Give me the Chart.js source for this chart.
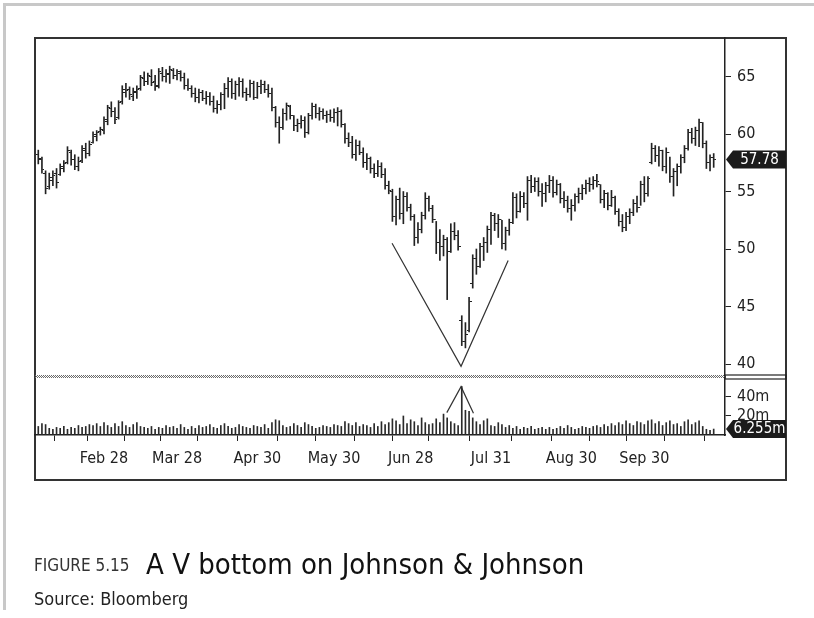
<!DOCTYPE html>
<html><head><meta charset="utf-8">
<script src="https://cdn.jsdelivr.net/npm/chart.js@4.4.1/dist/chart.umd.min.js"></script>
<style>
html,body{margin:0;padding:0;background:#fff;}
#wrap{position:relative;width:814px;height:618px;overflow:hidden;background:#fff;}
#frame{position:absolute;left:3px;top:3px;width:811px;height:607px;border-top:3px solid #c8c8c8;border-left:3px solid #c8c8c8;box-sizing:border-box;}
#box{position:absolute;left:34px;top:37px;width:753px;height:444px;border:2px solid #333;box-sizing:border-box;}
#c{position:absolute;left:0;top:0;}
.cap{position:absolute;white-space:nowrap;line-height:1;font-family:'Liberation Sans Narrow','DejaVu Sans Condensed','Roboto Condensed','Liberation Sans',sans-serif;}
</style></head>
<body>
<div id="wrap">
  <div id="frame"></div>
  <div id="box"></div>
  <canvas id="c" width="814" height="618"></canvas>
  <div class="cap" style="left:34px;top:557px;font-size:17px;color:#333;">FIGURE 5.15</div>
  <div class="cap" style="left:146px;top:550px;font-size:29px;color:#111;">A V bottom on Johnson &amp; Johnson</div>
  <div class="cap" style="left:34px;top:590px;font-size:18px;color:#222;">Source: Bloomberg</div>
</div>
<script>
// ---- data (one bar per trading day, Feb 1 .. Oct 25) ----
const openP = [
58.2,57.8,56.6,55.4,56.0,56.6,56.5,57.0,57.5,58.4,
57.8,57.2,57.7,58.6,58.3,59.3,59.8,60.2,60.3,61.1,
62.2,62.0,61.4,62.8,63.6,63.9,63.3,63.6,64.0,64.8,
64.6,65.0,64.6,64.2,65.3,65.0,65.2,65.5,65.1,65.3,
64.9,64.2,64.0,63.5,63.2,63.6,63.1,63.3,62.8,62.2,
62.6,63.4,64.0,64.6,63.5,64.3,64.6,63.6,63.4,64.4,
63.2,64.1,64.3,63.9,63.5,62.3,61.0,60.6,61.8,62.4,
61.6,60.7,60.9,61.2,60.1,61.6,62.4,61.8,62.0,61.6,
61.7,61.4,61.9,62.0,60.8,59.6,59.3,58.2,59.0,58.4,
57.5,57.9,57.0,56.6,57.2,56.5,55.5,55.0,52.8,54.3,
53.1,54.6,53.6,52.8,51.0,51.7,52.9,54.4,53.5,52.6,
50.6,50.2,50.8,49.8,51.5,51.2,43.8,42.0,42.9,47.0,
49.2,48.5,50.2,50.6,51.7,52.9,52.2,52.6,50.5,51.6,
52.3,54.5,53.3,54.6,54.0,56.0,55.4,55.9,55.0,54.8,
55.5,56.0,54.9,55.6,54.4,54.2,53.5,53.8,54.6,54.8,
55.3,55.7,55.6,56.0,55.6,54.3,54.8,53.8,54.5,53.3,
52.4,51.9,52.8,53.2,54.0,53.6,55.6,54.8,57.5,58.7,
58.1,58.6,57.2,58.4,56.3,56.7,57.2,58.0,58.7,60.1,
59.6,60.3,61.0,59.2,57.5,58.0];
const highP = [
58.6,58.0,56.8,56.6,56.8,57.0,57.4,57.7,58.9,58.6,
58.2,58.0,59.0,59.2,59.4,60.2,60.3,60.6,61.5,62.5,
62.8,62.3,62.9,64.2,64.4,64.1,64.0,64.2,65.1,65.4,
65.3,65.6,65.1,65.7,65.8,65.6,65.9,65.7,65.6,65.5,
65.3,64.8,64.2,64.0,63.9,63.8,63.7,63.6,63.3,62.9,
63.6,64.4,64.9,64.8,64.6,64.9,64.8,64.0,64.7,64.6,
64.5,64.7,64.6,64.3,64.0,62.4,61.5,62.2,62.7,62.5,
61.6,61.3,61.6,61.5,61.8,62.7,62.6,62.3,62.2,62.0,
62.1,62.2,62.3,62.1,60.9,60.1,59.8,59.5,59.4,58.8,
58.3,58.0,57.4,57.7,57.5,57.0,55.9,55.2,54.6,55.3,
55.0,54.9,53.9,53.0,52.3,53.2,54.9,54.6,53.8,52.4,
51.7,51.2,51.0,52.2,52.3,51.6,44.2,43.6,45.8,49.5,
50.0,50.5,51.0,52.0,53.2,53.1,53.0,52.5,51.9,52.6,
54.9,54.8,55.0,54.9,56.3,56.4,56.2,56.2,55.7,55.8,
56.4,56.3,56.0,55.7,55.0,54.6,54.3,54.8,55.3,55.6,
56.0,56.2,56.3,56.5,55.6,55.1,54.9,55.1,54.6,53.5,
53.0,53.2,53.5,54.3,54.6,55.9,56.3,56.3,59.2,59.0,
58.9,58.6,58.8,58.0,57.0,57.4,58.2,59.0,60.4,60.5,
60.6,61.3,61.0,59.4,58.2,58.3];
const lowP = [
57.4,56.6,54.8,55.2,55.5,55.3,56.4,56.7,57.4,57.3,
56.9,56.8,57.5,57.9,58.1,59.2,59.4,59.9,60.0,60.8,
61.5,60.9,61.3,62.6,63.2,63.0,62.9,63.1,63.8,64.2,
64.3,64.2,63.8,64.0,64.6,64.5,64.4,64.8,64.7,64.6,
63.9,63.8,63.2,62.8,62.7,62.9,62.6,62.5,61.9,61.8,
62.1,62.2,63.2,63.1,63.0,63.3,63.2,62.9,63.2,63.0,
63.1,63.5,63.6,63.2,62.0,60.6,59.2,60.4,61.2,61.3,
60.3,60.2,60.5,59.7,60.0,61.3,61.4,61.2,61.3,61.0,
61.1,61.0,60.7,60.6,59.2,58.9,57.9,57.7,58.2,57.1,
56.9,56.6,56.2,56.3,56.2,55.2,54.8,52.4,52.1,52.6,
52.2,53.3,52.5,50.3,50.5,51.4,52.6,53.3,52.3,49.6,
49.0,49.4,45.6,49.7,50.8,49.9,41.6,41.4,42.8,46.6,
47.8,48.4,49.0,49.7,50.4,51.6,51.0,50.0,49.9,51.2,
52.2,52.7,53.2,53.6,52.5,54.9,55.0,54.6,53.7,54.1,
54.9,54.5,54.7,54.0,53.6,53.2,52.5,53.3,54.0,54.3,
54.8,55.0,55.2,55.4,54.0,53.6,53.4,53.7,53.0,52.0,
51.5,51.6,52.2,52.9,53.2,53.8,54.1,54.6,57.4,57.6,
57.2,56.8,56.6,55.8,54.6,55.5,56.6,57.5,58.6,59.2,
59.0,58.9,58.8,57.0,56.8,57.1];
const closeP = [
57.9,56.9,55.3,56.2,56.4,55.8,57.2,57.4,58.6,57.8,
57.2,57.6,58.7,58.3,59.1,60.0,60.1,60.4,61.3,62.3,
62.0,61.3,62.7,63.9,63.8,63.4,63.7,63.9,64.9,64.6,
65.1,64.5,64.1,65.4,65.0,65.3,65.6,65.1,65.4,64.9,
64.2,64.0,63.5,63.2,63.6,63.1,63.3,62.8,62.2,62.6,
63.4,64.0,64.6,63.5,64.3,64.6,63.6,63.4,64.4,63.2,
64.1,64.3,63.9,63.5,62.3,61.0,60.6,61.8,62.5,61.6,
60.7,60.9,61.2,60.1,61.6,62.4,61.8,62.0,61.6,61.7,
61.4,61.9,62.0,60.8,59.6,59.3,58.2,59.0,58.4,57.5,
57.9,57.0,56.6,57.2,56.5,55.5,55.1,52.8,54.3,53.1,
54.6,53.6,52.8,51.0,51.7,52.9,54.4,53.5,52.6,50.6,
50.2,50.8,49.8,51.5,51.2,50.2,42.0,42.6,45.4,49.2,
48.5,50.2,50.6,51.7,52.9,52.2,52.6,50.5,51.6,52.3,
54.5,53.3,54.6,54.0,56.0,55.4,55.9,55.0,54.8,55.5,
56.0,54.9,55.6,54.4,54.2,53.5,53.8,54.6,54.8,55.3,
55.7,55.6,56.0,55.9,54.3,54.8,53.8,54.5,53.3,52.4,
51.9,52.8,53.2,54.0,53.6,55.6,54.8,56.1,58.7,58.1,
58.6,57.2,58.4,56.3,56.7,57.2,58.0,58.7,60.1,59.6,
60.3,61.0,59.2,57.5,58.0,57.78];
// volume in millions of shares
const volume = [
9,12,11,7,6,8,7,9,6,8,
7,10,8,9,11,10,12,9,13,10,
8,12,9,14,10,8,11,13,9,8,
7,9,6,8,7,10,8,9,7,11,
8,6,9,7,10,8,9,11,8,7,
10,12,9,7,8,11,9,8,7,10,
9,8,11,7,13,16,15,10,8,9,
12,10,8,13,11,9,7,8,10,9,
8,11,10,9,14,12,10,13,9,11,
10,8,12,9,14,11,13,17,15,11,
20,12,16,14,10,18,13,11,12,17,
13,22,18,14,12,10,51,26,25,18,
14,11,15,17,10,9,13,11,8,10,
7,9,6,8,7,9,6,7,8,6,
8,6,7,9,7,10,8,6,7,9,
8,7,9,10,8,11,9,12,10,13,
11,15,12,10,14,13,11,15,16,12,
14,10,13,15,11,12,9,14,16,11,
13,15,9,6,5,6.255];
// hand-drawn V pattern (day index, value)
const vPriceDay = [96.9, 115.8, 128.7];
const vPriceVal = [50.5, 39.8, 49.0];
const vVolDay = [111.9, 115.8, 119.2];
const vVolVal = [23.5, 50.8, 22.8];
// axis ticks
const dateTickDay = [9,18,29,38,49,60,71,81,92,102,112,124,135,146,156,166,177];
const dateTickText = ['','Feb 28','','Mar 28','','Apr 30','','May 30','','Jun 28','','Jul 31','','Aug 30','','Sep 30',''];
const priceTicks = [40,42.5,45,47.5,50,52.5,55,57.5,60,62.5,65,67.5];
const priceTickText = ['40','','45','','50','','55','','60','','65',''];
const volTicks = [20,30,40,50];
const volTickText = ['20m','','40m',''];

const FONT = "'Liberation Sans Narrow','DejaVu Sans Condensed','Roboto Condensed','Liberation Sans',sans-serif";
const INK = '#222';

function tickImg(side){
  const c = document.createElement('canvas'); c.width = 5; c.height = 1;
  const g = c.getContext('2d'); g.fillStyle = INK;
  if (side === 'L') g.fillRect(0,0,2,1); else g.fillRect(3,0,2,1);
  return c;
}

const hl = lowP.map((l,i)=>({x:i, y:[l, highP[i]]}));
const op = openP.map((v,i)=>({x:i, y:v}));
const cl = closeP.map((v,i)=>({x:i, y:v}));
const vb = volume.map((v,i)=>({x:i, y:v}));
const vP = vPriceDay.map((d,i)=>({x:d, y:vPriceVal[i]}));
const vV = vVolDay.map((d,i)=>({x:d, y:vVolVal[i]}));

const overlay = {
  id:'overlay',
  afterDraw(chart){
    const {ctx, chartArea, scales} = chart;
    const y = scales.y, yv = scales.yv;
    const sepY = Math.round(y.bottom);
    ctx.save();
    ctx.lineWidth = 1; ctx.strokeStyle = '#6a6a6a';
    ctx.setLineDash([1,1]);
    for (let k=0;k<3;k++){
      ctx.lineDashOffset = k%2;
      ctx.beginPath(); ctx.moveTo(chartArea.left, sepY-1.5+k); ctx.lineTo(chartArea.right, sepY-1.5+k); ctx.stroke();
    }
    ctx.setLineDash([]);
    ctx.strokeStyle = '#222'; ctx.lineWidth = 1.2;
    ctx.strokeRect(y.left, sepY-2, y.right - y.left, 4);
    function tag(yy, txt){
      const l = y.left + 1, r = y.right;
      ctx.fillStyle = '#1b1b1b';
      ctx.beginPath();
      ctx.moveTo(l, yy); ctx.lineTo(l+7, yy-9); ctx.lineTo(r, yy-9); ctx.lineTo(r, yy+9); ctx.lineTo(l+7, yy+9); ctx.closePath(); ctx.fill();
      ctx.fillStyle = '#fff'; ctx.font = '15px ' + FONT; ctx.textAlign = 'center'; ctx.textBaseline = 'middle';
      ctx.fillText(txt, (l+7+r)/2, yy+0.5);
    }
    tag(y.getPixelForValue(closeP[closeP.length-1]), closeP[closeP.length-1].toFixed(2));
    tag(yv.getPixelForValue(volume[volume.length-1]), volume[volume.length-1] + 'm');
    ctx.restore();
  }
};

new Chart(document.getElementById('c'), {
  type:'bar',
  data:{datasets:[
    {type:'bar', data:hl, xAxisID:'x', yAxisID:'y', backgroundColor:INK, barThickness:1, grouped:false},
    {type:'scatter', data:op, xAxisID:'x', yAxisID:'y', pointStyle:tickImg('L'), pointRadius:2, showLine:false},
    {type:'scatter', data:cl, xAxisID:'x', yAxisID:'y', pointStyle:tickImg('R'), pointRadius:2, showLine:false},
    {type:'bar', data:vb, xAxisID:'x', yAxisID:'yv', backgroundColor:'#2a2a2a', barThickness:1, grouped:false},
    {type:'line', data:vP, xAxisID:'x', yAxisID:'y', borderColor:'#333', borderWidth:1.2, pointRadius:0, tension:0, fill:false},
    {type:'line', data:vV, xAxisID:'x', yAxisID:'yv', borderColor:'#333', borderWidth:1.2, pointRadius:0, tension:0, fill:false}
  ]},
  options:{
    responsive:false, animation:false, devicePixelRatio:1,
    layout:{padding:{left:35, top:38, right:28, bottom:138}},
    plugins:{legend:{display:false}, tooltip:{enabled:false}},
    scales:{
      x:{type:'linear', position:'bottom', min:-0.9, max:188.1, offset:false,
        grid:{drawOnChartArea:false, drawTicks:true, tickLength:6, color:INK, lineWidth:1},
        border:{display:true, color:INK, width:1.5},
        ticks:{autoSkip:false, maxRotation:0, padding:8, color:INK, font:{family:FONT, size:16},
          callback:(v)=>{const k = dateTickDay.indexOf(v); return k>=0 ? dateTickText[k] : '';}},
        afterBuildTicks:(s)=>{ s.ticks = dateTickDay.map(v=>({value:v})); },
        afterFit:(s)=>{ s.height = 45; }
      },
      y:{type:'linear', position:'right', stack:'main', stackWeight:339, min:38.87, max:68.35, offset:false,
        grid:{drawOnChartArea:false, drawTicks:true, tickLength:6, color:INK, lineWidth:1},
        border:{display:true, color:INK, width:1.5},
        ticks:{padding:6, color:INK, font:{family:FONT, size:16},
          callback:(v)=>{const k = priceTicks.indexOf(v); return k>=0 ? priceTickText[k] : '';}},
        afterBuildTicks:(s)=>{ s.ticks = priceTicks.map(v=>({value:v})); },
        afterFit:(s)=>{ s.width = 61; }
      },
      yv:{type:'linear', position:'right', stack:'main', stackWeight:58, min:0, max:61, offset:false,
        grid:{drawOnChartArea:false, drawTicks:true, tickLength:6, color:INK, lineWidth:1},
        border:{display:true, color:INK, width:1.5},
        ticks:{padding:6, color:INK, font:{family:FONT, size:16},
          callback:(v)=>{const k = volTicks.indexOf(v); return k>=0 ? volTickText[k] : '';}},
        afterBuildTicks:(s)=>{ s.ticks = volTicks.map(v=>({value:v})); },
        afterFit:(s)=>{ s.width = 61; }
      }
    }
  },
  plugins:[overlay]
});
</script>
</body></html>
